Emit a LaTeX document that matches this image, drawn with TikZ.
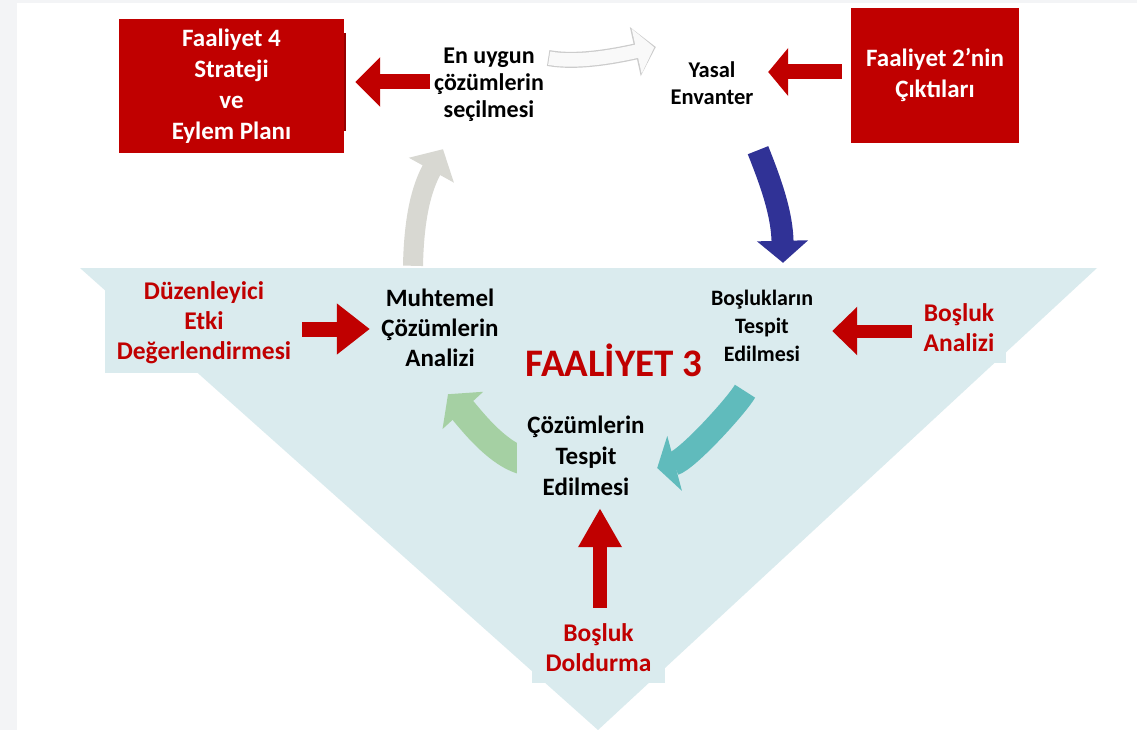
\documentclass[tikz,border=0pt]{standalone}
\usepackage{fontspec}
\setmainfont{Carlito}
\usetikzlibrary{arrows.meta}
\definecolor{dred}{RGB}{192,0,0}
\definecolor{tri}{RGB}{218,235,238}
\definecolor{strip}{RGB}{243,244,246}
\definecolor{tealc}{RGB}{96,187,188}
\definecolor{greenc}{RGB}{165,208,163}
\definecolor{graya}{RGB}{216,216,210}
\definecolor{bluec}{RGB}{48,50,150}
\definecolor{shadowred}{RGB}{150,0,0}
\pgfdeclarelayer{bg}
\pgfdeclarelayer{back}
\pgfsetlayers{bg,back,main}
\tikzset{
  redbox/.style={fill=dred, text=white, font=\bfseries\fontsize{25}{31}\selectfont, align=center, inner sep=0pt},
  blk/.style={text=black, font=\bfseries\fontsize{25}{30}\selectfont, align=center, inner sep=0pt},
  rlbl/.style={text=dred, fill=tri, font=\bfseries\fontsize{25.5}{30}\selectfont, align=center, inner sep=0pt},
  redarrow/.style={draw=dred, line width=#1},
}
\begin{document}
\begin{tikzpicture}[x=1pt,y=-1pt]
\useasboundingbox (0,0) rectangle (1137,730);
\begin{pgfonlayer}{bg}
\fill[strip] (0,0) rectangle (1137,730);
\fill[white] (17,3) rectangle (1137,730);
\fill[tri] (80,268) -- (1097,268) -- (598,730) -- cycle;
\fill[shadowred] (343,33) rectangle (346,131);
\end{pgfonlayer}

% boxes and labels
\node[redbox, minimum width=225, minimum height=134] (f4) at (231.5,86.5) {Faaliyet 4\\Strateji\\ve\\Eylem Planı};
\node[redbox, minimum width=168, minimum height=135] (f2) at (935,75.5) {Faaliyet 2’nin\\Çıktıları};
\node[blk, font=\bfseries\fontsize{24}{27}\selectfont, minimum width=118, minimum height=92] (enuy) at (489,85) {En uygun\\çözümlerin\\seçilmesi};
\node[blk, font=\bfseries\fontsize{22.5}{27}\selectfont, minimum width=112, minimum height=70] (yasal) at (712,83.5) {Yasal\\Envanter};
\node[rlbl, minimum width=198, minimum height=100] (dle) at (204,323) {Düzenleyici\\Etki\\Değerlendirmesi};
\node[blk, minimum width=140, minimum height=96] (muh) at (440,328) {Muhtemel\\Çözümlerin\\Analizi};
\node[blk, font=\bfseries\fontsize{22}{28}\selectfont, minimum width=140, minimum height=84] (bos) at (762,326) {Boşlukların\\Tespit\\Edilmesi};
\node[rlbl, minimum width=94, minimum height=70] (ban) at (959,328) {Boşluk\\Analizi};
\node[text=dred, font=\bfseries\fontsize{39}{40}\selectfont, inner sep=0pt] (f3) at (614,360) {FAALİYET 3};
\node[blk, fill=tri, font=\bfseries\fontsize{25}{31}\selectfont, minimum width=138, minimum height=104] (coz) at (586,456) {Çözümlerin\\Tespit\\Edilmesi};
\node[rlbl, minimum width=133, minimum height=70] (bdo) at (598.5,648) {Boşluk\\Doldurma};

% curved arrows (behind the nodes)
\begin{pgfonlayer}{back}
\draw[line width=16pt, draw=gray!40, -{Triangle[length=21pt,width=49pt]}]
  ([yshift=27pt]enuy.east) .. controls +(27,5) and +(-45,10) .. ([yshift=36.5pt]yasal.west);
\draw[line width=13.5pt, draw=gray!5, shorten >=1.6pt, shorten <=1pt, -{Triangle[length=18pt,width=45pt]}]
  ([yshift=27pt]enuy.east) .. controls +(27,5) and +(-45,10) .. ([yshift=36.5pt]yasal.west);
\draw[line width=20pt, draw=graya, -{Triangle[length=24pt,width=50pt]}]
  ([xshift=-27pt,yshift=14pt]muh.north) .. controls +(1,-50) and +(-21,38) .. ([xshift=-46pt,yshift=-18pt]enuy.south);
\draw[line width=22pt, draw=bluec, -{Triangle[length=22pt,width=50pt]}]
  ([xshift=46pt,yshift=-31.5pt]yasal.south) .. controls +(14,35) and +(-1,-48) .. ([xshift=21pt,yshift=21pt]bos.north);
\draw[line width=24pt, draw=tealc, -{Triangle[length=18pt,width=56pt]}]
  ([xshift=-17pt,yshift=-23pt]bos.south) .. controls +(-8,14) and +(30,-8) .. ([xshift=2pt,yshift=-12pt]coz.east);
\draw[line width=28pt, draw=greenc, -{Triangle[length=22pt,width=54pt]}]
  ([xshift=14pt,yshift=-6pt]coz.west) .. controls +(-30,-2) and +(22,24) .. ([xshift=8pt,yshift=-18pt]muh.south);
\end{pgfonlayer}

% straight red arrows
\draw[redarrow=15pt, -{Triangle[length=25pt,width=48pt]}] ([yshift=3pt]enuy.west) -- ([xshift=11pt,yshift=4.5pt]f4.east);
\draw[redarrow=15pt, -{Triangle[length=20pt,width=47pt]}] ([xshift=-9pt,yshift=3.5pt]f2.west) -- ([yshift=11.5pt]yasal.east);
\draw[redarrow=15pt, -{Triangle[length=33pt,width=49pt]}] ([xshift=-1pt,yshift=-6pt]dle.east) -- ([yshift=-1pt]muh.west);
\draw[redarrow=13pt, -{Triangle[length=25pt,width=47pt]}] ([yshift=-3pt]ban.west) -- ([yshift=-5pt]bos.east);
\draw[redarrow=14pt, -{Triangle[length=39pt,width=41pt]}] ([xshift=1.5pt,yshift=5pt]bdo.north) -- ([xshift=14pt]coz.south);
\end{tikzpicture}
\end{document}
